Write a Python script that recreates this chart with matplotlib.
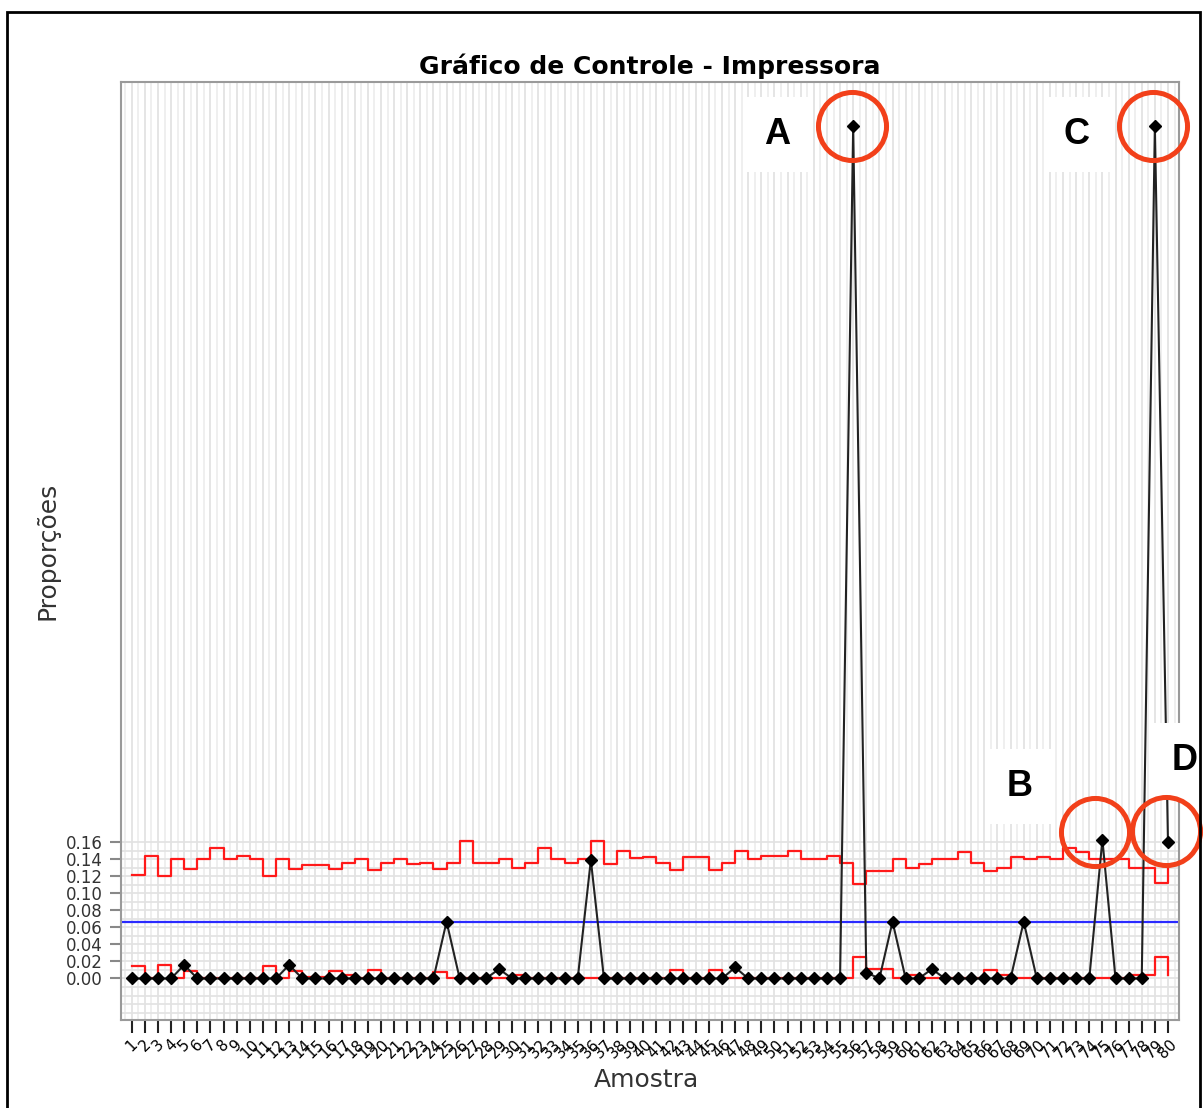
import numpy as np
import matplotlib.pyplot as plt
from matplotlib.transforms import offset_copy
from matplotlib.patches import Rectangle

plt.rcParams['font.family'] = ['DejaVu Sans']

# proporção de defeituosos por amostra
amostra = np.arange(1, 81)
proporcao = [0, 0, 0, 0, 0.016, 0, 0, 0, 0, 0,
             0, 0, 0.016, 0, 0, 0, 0, 0, 0, 0,
             0, 0, 0, 0, 0.0667, 0, 0, 0, 0.011, 0,
             0, 0, 0, 0, 0, 0.139, 0, 0, 0, 0,
             0, 0, 0, 0, 0, 0, 0.013, 0, 0, 0,
             0, 0, 0, 0, 0, 1.0, 0.007, 0, 0.0667, 0,
             0, 0.011, 0, 0, 0, 0, 0, 0, 0.0667, 0,
             0, 0, 0, 0, 0.163, 0, 0, 0, 1.0, 0.160]

# limites de controle (variam com o tamanho da amostra)
lsc = [0.122, 0.144, 0.120, 0.140, 0.128, 0.140, 0.153, 0.140, 0.144, 0.140,
       0.120, 0.140, 0.128, 0.133, 0.133, 0.128, 0.136, 0.140, 0.127, 0.136,
       0.140, 0.134, 0.136, 0.128, 0.136, 0.161, 0.136, 0.136, 0.140, 0.130,
       0.136, 0.153, 0.140, 0.136, 0.140, 0.161, 0.134, 0.150, 0.141, 0.143,
       0.135, 0.127, 0.143, 0.143, 0.127, 0.136, 0.150, 0.140, 0.144, 0.144,
       0.150, 0.140, 0.140, 0.144, 0.136, 0.111, 0.126, 0.126, 0.140, 0.130,
       0.134, 0.140, 0.140, 0.149, 0.136, 0.126, 0.130, 0.143, 0.140, 0.143,
       0.140, 0.153, 0.149, 0.140, 0.140, 0.140, 0.130, 0.130, 0.112, 0.130]
lic = [0.0145, 0, 0.016, 0, 0.0086, 0, 0, 0, 0, 0,
       0.0145, 0, 0.0086, 0.002, 0.002, 0.0086, 0.004, 0, 0.010, 0,
       0, 0.001, 0, 0.008, 0, 0, 0, 0, 0, 0.004,
       0, 0, 0, 0, 0, 0, 0.001, 0, 0, 0,
       0, 0.010, 0, 0, 0.010, 0, 0, 0, 0, 0,
       0, 0, 0, 0, 0, 0.025, 0.0106, 0.0106, 0, 0.004,
       0, 0, 0, 0, 0, 0.010, 0.004, 0, 0, 0,
       0, 0, 0, 0, 0, 0, 0.004, 0.004, 0.025, 0.004]
media = 0.0667

# pontos destacados: rótulo, amostra, deslocamento do texto e do círculo (px)
destaques = [('A', 56, (-76, -8), (-1, 0)),
             ('B', 75, (-83, 53), (-7, 8)),
             ('C', 79, (-78, -8), (-2, 0)),
             ('D', 80, (17, 82), (-2, 11))]

W, H = 1203, 1108
fig = plt.figure(figsize=(W / 100, H / 100), dpi=100)
ax = fig.add_axes([121 / W, 1 - 1020 / H, (1179 - 121) / W, (1020 - 82) / H])
ax.set_xlim(0.18, 80.84)
ax.set_ylim(-0.0487, 1.052)

# grade
for xv in np.arange(0.5, 81, 0.5):
    ax.axvline(xv, color='#e0e0e0' if xv % 1 == 0 else '#ececec', lw=1.2, zorder=0)
ax.hlines(np.arange(-0.04, 0.1651, 0.01), 0.18, 80.84, color='#e2e2e2', lw=1.2, zorder=0)

ax.plot(amostra, lsc, drawstyle='steps-post', color='#ff1a1a', lw=1.6, zorder=2)
ax.plot(amostra, lic, drawstyle='steps-post', color='#ff1a1a', lw=1.6, zorder=2)
ax.axhline(media, color='#2a2aff', lw=1.6, zorder=2)
ax.plot(amostra, proporcao, color='#222222', lw=1.5, marker='D', ms=6.5,
        mfc='black', mec='black', zorder=3)

for rotulo, i, dtexto, dcirc in destaques:
    y = proporcao[i - 1]
    tr = offset_copy(ax.transData, fig=fig, x=dcirc[0], y=dcirc[1], units='dots')
    ax.plot([i], [y], marker='o', ms=49, mfc='none', mec='#f2401a', mew=3.6,
            transform=tr, clip_on=False, zorder=6)
    ax.annotate(rotulo, xy=(i, y), xytext=dtexto, textcoords='offset pixels',
                fontsize=26, fontweight='bold', family='Liberation Sans',
                ha='center', va='center',
                bbox=dict(boxstyle='square,pad=0.55', fc='white', ec='none'),
                annotation_clip=False, zorder=5)

ax.set_xticks(amostra)
ax.set_xticklabels([str(v) for v in amostra], rotation=45, ha='center')
ax.set_yticks(np.arange(0, 0.161, 0.02))
ax.set_yticklabels(['%.2f' % v for v in np.arange(0, 0.161, 0.02)])
ax.tick_params(axis='x', length=9, width=1.5, color='#222222', labelsize=11,
               labelcolor='black', pad=3)
ax.tick_params(axis='y', length=8, width=1.5, color='#888888', labelsize=12,
               labelcolor='#333333', pad=5)
for s in ax.spines.values():
    s.set_color('#9a9a9a')
    s.set_linewidth(1.5)

ax.set_title('Gráfico de Controle - Impressora', fontsize=18, fontweight='bold', pad=6)
ax.set_xlabel('Amostra', fontsize=18, color='#333333')
ax.xaxis.set_label_coords(0.497, -0.051)
ax.set_ylabel('Proporções', fontsize=18, color='#333333')
ax.yaxis.set_label_coords(-0.058, 0.5)

fig.add_artist(Rectangle((7 / W, -0.01), (1200 - 7) / W, (H - 12) / H + 0.01,
                         transform=fig.transFigure, fill=False, ec='black', lw=2))

fig.savefig('out.png', dpi=100)
